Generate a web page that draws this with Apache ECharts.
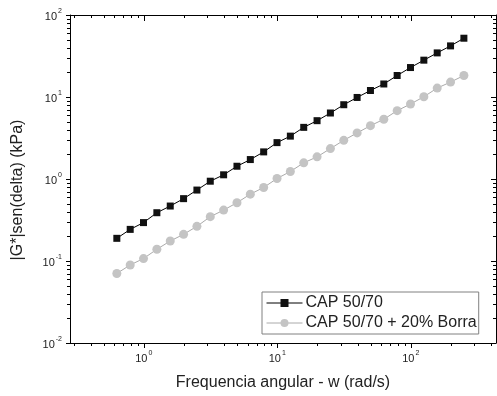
<!DOCTYPE html>
<html>
<head>
<meta charset="utf-8">
<script src="https://cdn.jsdelivr.net/npm/echarts@6/dist/echarts.min.js"></script>
<style>html,body{margin:0;padding:0;background:#fff;}#c{width:497px;height:396px;}</style>
</head>
<body>
<div id="c"></div>
<script>
// angular frequency (rad/s)
const freq = [0.628, 0.791, 0.995, 1.253, 1.578, 1.986, 2.50, 3.148, 3.963, 4.989, 6.281, 7.907, 9.955,
  12.53, 15.78, 19.86, 25.0, 31.48, 39.63, 49.89, 62.81, 79.07, 99.55, 125.3, 157.8, 198.6, 250.0];
// |G*|sen(delta) (kPa)
const cap5070 = [0.189, 0.243, 0.294, 0.388, 0.468, 0.576, 0.733, 0.940, 1.125, 1.431, 1.726, 2.141, 2.778,
  3.333, 4.264, 5.143, 6.38, 8.05, 9.87, 12.01, 14.41, 18.28, 22.87, 28.13, 34.51, 42.0, 52.1];
const capBorra = [0.0704, 0.0895, 0.1071, 0.139, 0.1753, 0.2114, 0.2645, 0.347, 0.4175, 0.5136, 0.6534, 0.788, 1.014,
  1.234, 1.574, 1.862, 2.349, 2.963, 3.646, 4.472, 5.35, 6.81, 8.21, 10.07, 12.85, 15.20, 18.28];
const seriesNames = ['CAP 50/70', 'CAP 50/70 + 20% Borra'];
const xMinorTicks = [0.3,0.4,0.5,0.6,0.7,0.8,0.9, 2,3,4,5,6,7,8,9, 20,30,40,50,60,70,80,90, 200,300,400];
const yMinorTicks = [0.02,0.03,0.04,0.05,0.06,0.07,0.08,0.09, 0.2,0.3,0.4,0.5,0.6,0.7,0.8,0.9,
  2,3,4,5,6,7,8,9, 20,30,40,50,60,70,80,90];
const X_MIN = 0.28, X_MAX = 435, Y_MIN = 0.01, Y_MAX = 100;
const xTitle = 'Frequencia angular - w (rad/s)';
const yTitle = '|G*|sen(delta) (kPa)';

const FONT = 'Liberation Sans, Arial, sans-serif';
const chart = echarts.init(document.getElementById('c'), null, {renderer: 'canvas'});

function powLabel(v) {
  const e = Math.round(Math.log10(v));
  return '{b|10}{s|' + e + '}';
}
const rich = {
  b: {fontSize: 11, fontFamily: FONT, color: '#222', lineHeight: 14, verticalAlign: 'bottom'},
  s: {fontSize: 7, fontFamily: FONT, color: '#222', verticalAlign: 'top', lineHeight: 14, padding: [0, 0, 0, 1]}
};
const axisLine = {show: true, lineStyle: {color: '#000', width: 1}};

const option = {
  animation: false,
  backgroundColor: '#fff',
  grid: {left: 70, right: 1, top: 15, bottom: 52, containLabel: false},
  xAxis: [
    {type: 'log', logBase: 10, min: X_MIN, max: X_MAX, position: 'bottom',
     axisLine: axisLine, splitLine: {show: false},
     axisTick: {show: true, inside: false, length: 5, lineStyle: {color: '#000'}},
     axisLabel: {formatter: powLabel, rich: rich, margin: 7, showMinLabel: false, showMaxLabel: false},
     name: xTitle, nameLocation: 'middle', nameGap: 32,
     nameTextStyle: {fontSize: 16, fontFamily: FONT, color: '#222'}},
    {type: 'log', logBase: 10, min: X_MIN, max: X_MAX, position: 'top',
     axisLine: axisLine, splitLine: {show: false},
     axisTick: {show: true, inside: true, length: 6, lineStyle: {color: '#000'}},
     axisLabel: {show: false}}
  ],
  yAxis: [
    {type: 'log', logBase: 10, min: Y_MIN, max: Y_MAX, position: 'left',
     axisLine: axisLine, splitLine: {show: false},
     axisTick: {show: true, inside: false, length: 4, lineStyle: {color: '#000'}},
     axisLabel: {formatter: powLabel, rich: rich, margin: 8}},
    {type: 'log', logBase: 10, min: Y_MIN, max: Y_MAX, position: 'right',
     axisLine: axisLine, splitLine: {show: false},
     axisTick: {show: true, inside: true, length: 5, lineStyle: {color: '#000'}},
     axisLabel: {show: false}}
  ],
  legend: {
    data: seriesNames, orient: 'vertical', left: 262, top: 292,
    itemWidth: 36, itemHeight: 10, itemGap: 4,
    padding: [3, 2, 3, 4], borderColor: '#808080', borderWidth: 1, backgroundColor: '#fff',
    lineStyle: {width: 1},
    textStyle: {fontSize: 16, fontFamily: FONT, color: '#222', padding: [0, 0, 0, -2]}
  },
  graphic: [{
    type: 'text', x: 18, y: 190, rotation: Math.PI / 2,
    style: {text: yTitle, fontSize: 16, fontFamily: FONT, fill: '#222', align: 'center', verticalAlign: 'middle'}
  }],
  series: [
    {name: seriesNames[0], type: 'line', data: freq.map((f, i) => [f, cap5070[i]]),
     symbol: 'rect', symbolSize: 7, lineStyle: {color: '#000', width: 1},
     itemStyle: {color: '#111'}, z: 3},
    {name: seriesNames[1], type: 'line', data: freq.map((f, i) => [f, capBorra[i]]),
     symbol: 'circle', symbolSize: 9, lineStyle: {color: '#aaa', width: 1},
     itemStyle: {color: '#c4c4c4'}, z: 2},
    {type: 'custom', silent: true, clip: false, z: 5,
     data: xMinorTicks.map(v => [v, Y_MIN]),
     renderItem: function (params, api) {
       const v = api.value(0);
       const b = api.coord([v, Y_MIN]);
       const t = api.coord([v, Y_MAX]);
       const x = Math.round(b[0]) + 0.5;
       return {type: 'group', children: [
         {type: 'line', shape: {x1: x, y1: b[1], x2: x, y2: b[1] + 3}, style: {stroke: '#000', lineWidth: 1}},
         {type: 'line', shape: {x1: x, y1: t[1], x2: x, y2: t[1] + 3}, style: {stroke: '#000', lineWidth: 1}}
       ]};
     }},
    {type: 'custom', silent: true, clip: false, z: 5,
     data: yMinorTicks.map(v => [X_MIN, v]),
     renderItem: function (params, api) {
       const v = api.value(1);
       const l = api.coord([X_MIN, v]);
       const r = api.coord([X_MAX, v]);
       const y = Math.round(l[1]) + 0.5;
       return {type: 'group', children: [
         {type: 'line', shape: {x1: l[0] - 3, y1: y, x2: l[0], y2: y}, style: {stroke: '#000', lineWidth: 1}},
         {type: 'line', shape: {x1: r[0] - 3, y1: y, x2: r[0], y2: y}, style: {stroke: '#000', lineWidth: 1}}
       ]};
     }}
  ]
};
chart.setOption(option);
</script>
</body>
</html>
